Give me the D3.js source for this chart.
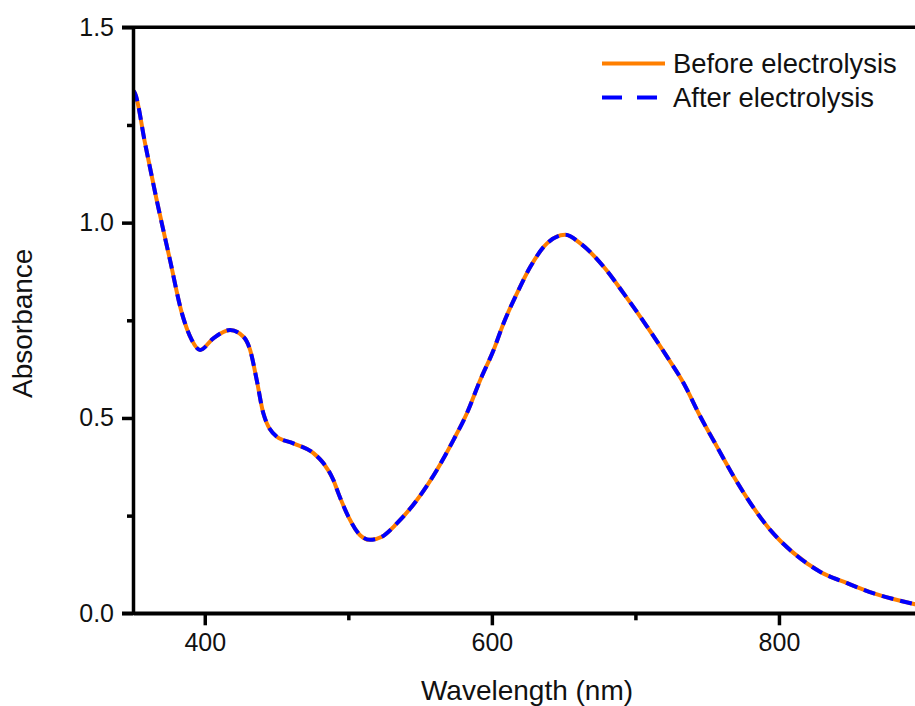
<!DOCTYPE html>
<html>
<head>
<meta charset="utf-8">
<script src="https://cdn.jsdelivr.net/npm/d3@7"></script>
<style>
  body { margin: 0; background: #fff; }
  svg { display: block; font-family: Arial, "Liberation Sans", sans-serif; }
</style>
</head>
<body>
<div id="chart"></div>
<script>
// wavelength (nm) / absorbance
const wavelength = [350, 351.4, 358.4, 366.5, 375.8, 384.0, 390.9, 396.7, 406.0, 417.6, 426.9, 431.6, 436.2, 440.8,
  450.2, 461.7, 475.7, 482.7, 489.6, 493.1, 500.1, 508.2, 515.2, 523.4, 533.8, 547.8, 561.7, 573.3, 582.6, 591.9,
  601.2, 608.1, 617.5, 626.8, 638.4, 651.1, 661.6, 677.9, 691.8, 708.1, 722.0, 733.6, 745.3, 756.9, 768.5, 780.1,
  794.0, 810.3, 828.9, 847.5, 866.1, 882.4, 894.0, 900];
const before = [1.339, 1.331, 1.203, 1.058, 0.904, 0.769, 0.700, 0.674, 0.704, 0.725, 0.708, 0.674, 0.597, 0.512,
  0.452, 0.435, 0.410, 0.384, 0.341, 0.307, 0.247, 0.200, 0.188, 0.196, 0.230, 0.290, 0.367, 0.444, 0.512, 0.597,
  0.674, 0.742, 0.819, 0.887, 0.947, 0.969, 0.947, 0.887, 0.819, 0.734, 0.657, 0.589, 0.503, 0.426, 0.350, 0.282,
  0.213, 0.154, 0.106, 0.077, 0.051, 0.034, 0.024, 0.020];
const after = [1.339, 1.331, 1.203, 1.058, 0.904, 0.769, 0.700, 0.674, 0.704, 0.725, 0.708, 0.674, 0.597, 0.512,
  0.452, 0.435, 0.410, 0.384, 0.341, 0.307, 0.247, 0.200, 0.188, 0.196, 0.230, 0.290, 0.367, 0.444, 0.512, 0.597,
  0.674, 0.742, 0.819, 0.887, 0.947, 0.969, 0.947, 0.887, 0.819, 0.734, 0.657, 0.589, 0.503, 0.426, 0.350, 0.282,
  0.213, 0.154, 0.106, 0.077, 0.051, 0.034, 0.024, 0.020];
const xTicks = [400, 600, 800];
const xMinor = [500, 700];
const yTicks = [0, 0.5, 1.0, 1.5];
const yMinor = [0.25, 0.75, 1.25];
const seriesNames = ["Before electrolysis", "After electrolysis"];

const W = 915, H = 706;
const svg = d3.select("#chart").append("svg").attr("width", W).attr("height", H);

const x = d3.scaleLinear().domain([350, 900]).range([133, 922.5]);
const y = d3.scaleLinear().domain([0, 1.5]).range([613.3, 27.3]);

svg.append("clipPath").attr("id", "clip").append("rect")
  .attr("x", 133).attr("y", 20).attr("width", W - 133).attr("height", 593.3);

const line = d3.line().x(d => x(d[0])).y(d => y(d[1])).curve(d3.curveMonotoneX);
const g = svg.append("g").attr("clip-path", "url(#clip)");
g.append("path").datum(d3.zip(wavelength, before))
  .attr("d", line).attr("fill", "none").attr("stroke", "#ff7f00").attr("stroke-width", 4);
g.append("path").datum(d3.zip(wavelength, after))
  .attr("d", line).attr("fill", "none").attr("stroke", "#0000ff").attr("stroke-width", 4)
  .attr("stroke-dasharray", "12,7");

// axes
svg.append("g").attr("transform", `translate(0,${y(0)})`)
  .call(d3.axisBottom(x).tickValues(xTicks).tickSize(12).tickSizeOuter(0).tickPadding(8).tickFormat(d3.format("d")));
svg.append("g").attr("transform", `translate(0,${y(0)})`)
  .call(d3.axisBottom(x).tickValues(xMinor).tickSize(7).tickFormat(""))
  .call(a => a.select(".domain").remove());
svg.append("g").attr("transform", `translate(${x(350)},0)`)
  .call(d3.axisLeft(y).tickValues(yTicks).tickSize(11).tickSizeOuter(0).tickPadding(8).tickFormat(d3.format(".1f")));
svg.append("g").attr("transform", `translate(${x(350)},0)`)
  .call(d3.axisLeft(y).tickValues(yMinor).tickSize(6).tickFormat(""))
  .call(a => a.select(".domain").remove());

svg.selectAll(".domain, .tick line").attr("stroke", "#000").attr("stroke-width", 3.5);
svg.selectAll(".tick text").attr("font-size", 25).attr("fill", "#111");

// baseline and top frame run a bit left of the axis
svg.append("line").attr("x1", 122).attr("x2", W).attr("y1", y(0)).attr("y2", y(0))
  .attr("stroke", "#000").attr("stroke-width", 3.5);
svg.append("line").attr("x1", 122).attr("x2", W).attr("y1", y(1.5)).attr("y2", y(1.5))
  .attr("stroke", "#000").attr("stroke-width", 3.5);

svg.append("text").attr("x", 527).attr("y", 700).attr("text-anchor", "middle")
  .attr("font-size", 28).attr("fill", "#111").text("Wavelength (nm)");
svg.append("text").attr("transform", `translate(32,${(y(0) + y(1.5)) / 2 + 3}) rotate(-90)`)
  .attr("text-anchor", "middle").attr("font-size", 28).attr("fill", "#111").text("Absorbance");

// legend
const legend = svg.append("g");
const styles = [{ c: "#ff7f00", dash: null }, { c: "#0000ff", dash: "20,15" }];
seriesNames.forEach((name, i) => {
  const yy = 63.5 + i * 34;
  legend.append("line").attr("x1", 602).attr("x2", i === 0 ? 665 : 657).attr("y1", yy).attr("y2", yy)
    .attr("stroke", styles[i].c).attr("stroke-width", 4).attr("stroke-dasharray", styles[i].dash);
  legend.append("text").attr("x", 673).attr("y", yy + 9).attr("font-size", 27.4).attr("fill", "#111").text(name);
});
</script>
</body>
</html>
